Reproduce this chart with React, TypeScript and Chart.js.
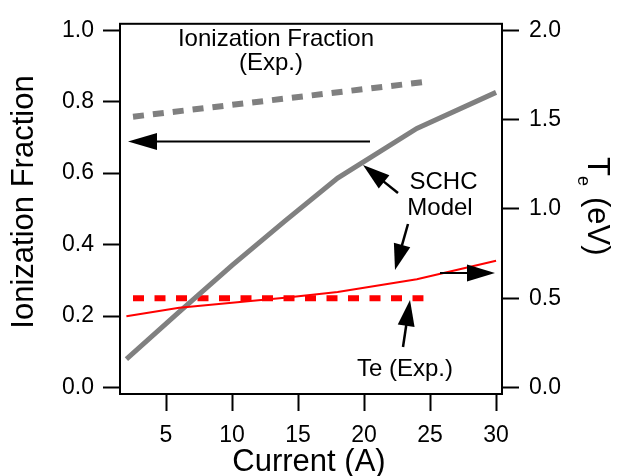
import React, { useEffect, useRef } from "react";
import { Chart, registerables } from "chart.js";

Chart.register(...registerables);

// ---- data ----
const currentModel = [2, 6, 10, 14, 18, 24, 30];
const ionFracModel = [0.08, 0.212, 0.342, 0.466, 0.586, 0.725, 0.826];
const teModel = [0.4, 0.447, 0.475, 0.503, 0.535, 0.607, 0.71];
const currentIonExp = [2.5, 25];
const ionFracExp = [0.758, 0.857];
const currentTeExp = [2.5, 24.5];
const teExp = [0.5, 0.5];
const xTicks = [5, 10, 15, 20, 25, 30];
const leftTicks = [0, 0.2, 0.4, 0.6, 0.8, 1.0];
const rightTicks = [0, 0.5, 1.0, 1.5, 2.0];

const FONT = "'Liberation Sans', Arial, Helvetica, sans-serif";

const pairs = (xs: number[], ys: number[]) => xs.map((x, i) => ({ x, y: ys[i] }));

function arrow(ctx: CanvasRenderingContext2D, x1: number, y1: number, x2: number, y2: number, hl: number, hw: number, lw: number) {
  const dx = x2 - x1, dy = y2 - y1;
  const len = Math.hypot(dx, dy);
  const ux = dx / len, uy = dy / len;
  const bx = x2 - ux * hl, by = y2 - uy * hl;
  ctx.beginPath();
  ctx.lineWidth = lw;
  ctx.moveTo(x1, y1);
  ctx.lineTo(bx + ux * 2, by + uy * 2);
  ctx.stroke();
  ctx.beginPath();
  ctx.moveTo(x2, y2);
  ctx.lineTo(bx - uy * hw, by + ux * hw);
  ctx.lineTo(bx + uy * hw, by - ux * hw);
  ctx.closePath();
  ctx.fill();
}

const overlay = {
  id: "overlay",
  afterDraw(chart: any) {
    const ctx: CanvasRenderingContext2D = chart.ctx;
    const a = chart.chartArea;
    ctx.save();
    ctx.strokeStyle = "#000";
    ctx.fillStyle = "#000";
    ctx.lineWidth = 2;
    ctx.strokeRect(a.left, a.top, a.right - a.left, a.bottom - a.top);

    // arrows
    arrow(ctx, 370, 141.5, 128, 141.5, 29, 8.5, 2);
    arrow(ctx, 398, 193, 363, 165, 27, 8.5, 2.5);
    arrow(ctx, 408, 224, 395, 270, 26, 8.5, 2.5);
    arrow(ctx, 403, 347, 410, 300, 26, 8.5, 2.5);
    arrow(ctx, 440, 273, 495, 273, 28, 8.5, 2);

    // annotations
    ctx.textBaseline = "alphabetic";
    ctx.textAlign = "center";
    ctx.font = `24px ${FONT}`;
    ctx.fillText("Ionization Fraction", 276, 46);
    ctx.fillText("(Exp.)", 271, 70);
    ctx.fillText("SCHC", 443.5, 189);
    ctx.fillText("Model", 440, 215);
    ctx.fillText("Te (Exp.)", 405, 376);

    // axis titles
    ctx.font = `31px ${FONT}`;
    ctx.fillText("Current (A)", 309, 471);

    ctx.save();
    ctx.translate(33, 202);
    ctx.rotate(-Math.PI / 2);
    ctx.fillText("Ionization Fraction", 0, 0);
    ctx.restore();

    ctx.save();
    ctx.translate(588, 157);
    ctx.rotate(Math.PI / 2);
    ctx.textAlign = "left";
    ctx.font = `31px ${FONT}`;
    ctx.fillText("T", 0, 0);
    ctx.font = `18px ${FONT}`;
    ctx.fillText("e", 19, 10);
    ctx.font = `31px ${FONT}`;
    ctx.fillText("(eV)", 40, 0);
    ctx.restore();

    ctx.restore();
  },
};

export default function App() {
  const ref = useRef<HTMLCanvasElement | null>(null);
  useEffect(() => {
    if (!ref.current) return;
    const tickFont = { family: FONT, size: 23 };
    const grid = { drawOnChartArea: false, tickLength: 17, tickWidth: 2, tickColor: "#000" };
    const chart = new Chart(ref.current, {
      type: "line",
      data: {
        datasets: [
          {
            label: "Te model",
            data: pairs(currentModel, teModel),
            yAxisID: "y2",
            borderColor: "#ff0000",
            borderWidth: 2,
            pointRadius: 0,
            tension: 0,
          },
          {
            label: "Ionization fraction model",
            data: pairs(currentModel, ionFracModel),
            yAxisID: "y",
            borderColor: "#808080",
            borderWidth: 5,
            pointRadius: 0,
            tension: 0,
          },
          {
            label: "Te exp",
            data: pairs(currentTeExp, teExp),
            yAxisID: "y2",
            borderColor: "#ff0000",
            borderWidth: 6,
            borderDash: [11, 10.5],
            borderCapStyle: "butt",
            pointRadius: 0,
          },
          {
            label: "Ionization fraction exp",
            data: pairs(currentIonExp, ionFracExp),
            yAxisID: "y",
            borderColor: "#808080",
            borderWidth: 6,
            borderDash: [11, 9],
            borderCapStyle: "butt",
            pointRadius: 0,
          },
        ],
      },
      options: {
        animation: false,
        responsive: false,
        layout: { padding: { top: 15, left: 0, right: 0, bottom: 0 } },
        plugins: { legend: { display: false }, tooltip: { enabled: false } },
        scales: {
          x: {
            type: "linear",
            min: 1.515,
            max: 30.45,
            afterBuildTicks: (s: any) => {
              s.ticks = xTicks.map((v) => ({ value: v }));
            },
            afterFit: (s: any) => {
              s.height = 82;
            },
            ticks: { font: tickFont, color: "#000", padding: 11, maxRotation: 0, callback: (v: any) => String(v) },
            grid,
            border: { display: false },
          },
          y: {
            type: "linear",
            position: "left",
            min: -0.0178,
            max: 1.0178,
            afterBuildTicks: (s: any) => {
              s.ticks = leftTicks.map((v) => ({ value: v }));
            },
            afterFit: (s: any) => {
              s.width = 120;
            },
            ticks: { font: tickFont, color: "#000", padding: 9, callback: (v: any) => Number(v).toFixed(1) },
            grid,
            border: { display: false },
          },
          y2: {
            type: "linear",
            position: "right",
            min: -0.0356,
            max: 2.0356,
            afterBuildTicks: (s: any) => {
              s.ticks = rightTicks.map((v) => ({ value: v }));
            },
            afterFit: (s: any) => {
              s.width = 115;
            },
            ticks: { font: tickFont, color: "#000", padding: 10, callback: (v: any) => Number(v).toFixed(1) },
            grid,
            border: { display: false },
          },
        },
      },
      plugins: [overlay],
    } as any);
    return () => chart.destroy();
  }, []);
  return (
    <div style={{ position: "fixed", left: 0, top: 0, width: 617, height: 476, background: "#fff" }}>
      <canvas ref={ref} width={617} height={476} style={{ display: "block" }} />
    </div>
  );
}
